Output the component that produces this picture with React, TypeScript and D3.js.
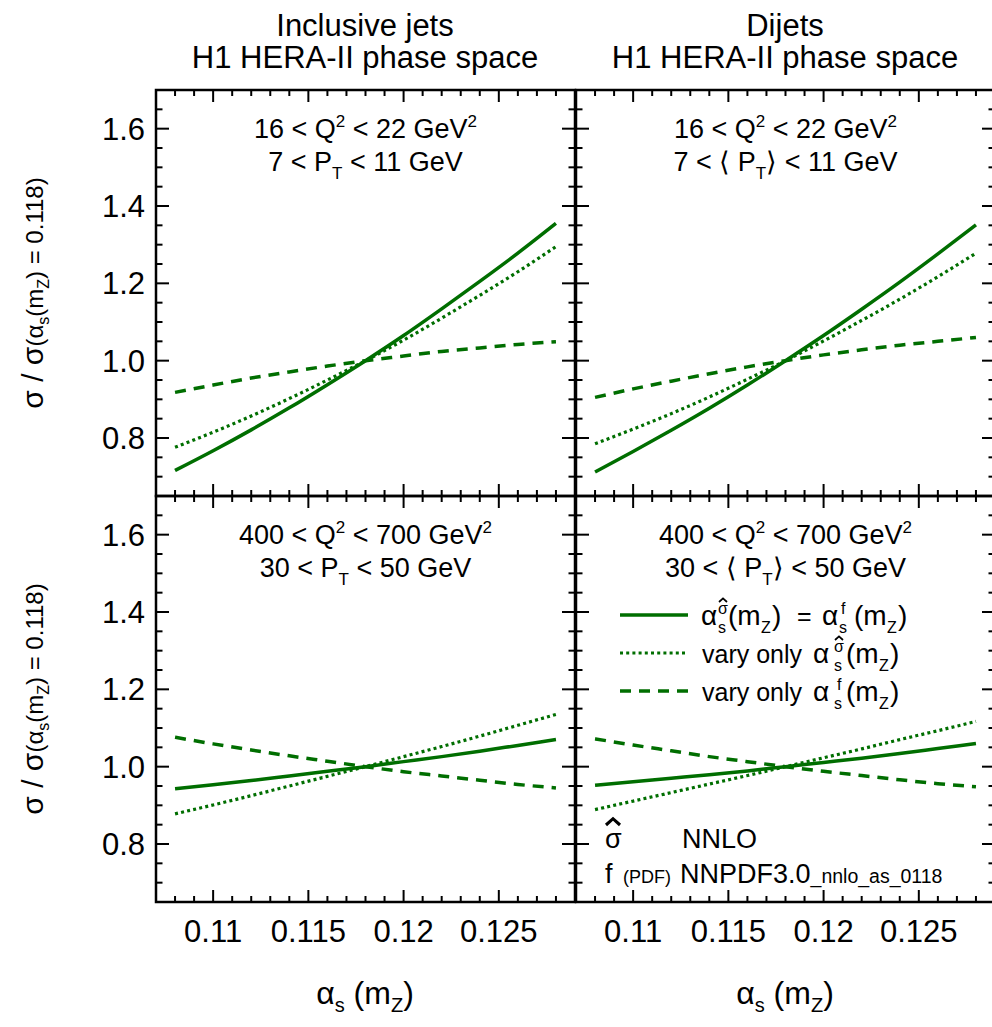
import React from 'react'
import * as d3 from 'd3'

const alphaS = [0.108, 0.110, 0.112, 0.114, 0.116, 0.118, 0.120, 0.122, 0.124, 0.126, 0.128]

// inclusive jets, 16 < Q2 < 22
const incTopBoth = [0.716, 0.767, 0.821, 0.878, 0.938, 1.0, 1.065, 1.134, 1.205, 1.278, 1.355]
const incTopHat = [0.776, 0.815, 0.857, 0.902, 0.950, 1.0, 1.053, 1.110, 1.169, 1.230, 1.295]
const incTopPdf = [0.918, 0.937, 0.955, 0.971, 0.986, 1.0, 1.012, 1.024, 1.033, 1.042, 1.049]
// dijets, 16 < Q2 < 22
const dijTopBoth = [0.712, 0.765, 0.820, 0.877, 0.937, 1.0, 1.065, 1.133, 1.203, 1.276, 1.351]
const dijTopHat = [0.785, 0.823, 0.863, 0.906, 0.952, 1.0, 1.051, 1.104, 1.159, 1.217, 1.278]
const dijTopPdf = [0.905, 0.927, 0.947, 0.966, 0.984, 1.0, 1.015, 1.028, 1.040, 1.050, 1.060]
// inclusive jets, 400 < Q2 < 700
const incBotBoth = [0.943, 0.953, 0.964, 0.976, 0.988, 1.0, 1.013, 1.026, 1.040, 1.055, 1.070]
const incBotHat = [0.878, 0.901, 0.925, 0.950, 0.975, 1.0, 1.026, 1.052, 1.079, 1.107, 1.135]
const incBotPdf = [1.076, 1.059, 1.043, 1.028, 1.014, 1.0, 0.987, 0.976, 0.965, 0.954, 0.945]
// dijets, 400 < Q2 < 700
const dijBotBoth = [0.952, 0.961, 0.970, 0.979, 0.989, 1.0, 1.011, 1.022, 1.034, 1.047, 1.060]
const dijBotHat = [0.889, 0.911, 0.933, 0.955, 0.977, 1.0, 1.023, 1.046, 1.070, 1.093, 1.117]
const dijBotPdf = [1.072, 1.056, 1.041, 1.026, 1.013, 1.0, 0.988, 0.977, 0.966, 0.956, 0.948]

const xTickLabels = ['0.11', '0.115', '0.12', '0.125']
const yTickLabels = ['0.8', '1.0', '1.2', '1.4', '1.6']

const GREEN = '#006e00'
const FONT = '"Liberation Sans", Arial, sans-serif'

const PW = 419
const PH = 406
const panels = [
  { col: 0, row: 0, both: incTopBoth, hat: incTopHat, pdf: incTopPdf },
  { col: 1, row: 0, both: dijTopBoth, hat: dijTopHat, pdf: dijTopPdf },
  { col: 0, row: 1, both: incBotBoth, hat: incBotHat, pdf: incBotPdf },
  { col: 1, row: 1, both: dijBotBoth, hat: dijBotHat, pdf: dijBotPdf },
]

const styles = {
  both: { dash: null, w: 3.5 },
  hat: { dash: '3 3.2', w: 3.2 },
  pdf: { dash: '11 8', w: 3.5 },
}

function Hat({ x, y, w }) {
  // the little circumflex that ROOT puts over sigma
  return <path d={`M${x},${y} L${x + w / 2},${y - w * 0.45} L${x + w},${y}`} fill="none" stroke="#000" strokeWidth={w * 0.22} />
}

function Panel({ p }) {
  const x0 = 156 + p.col * 420
  const y0 = 90 + p.row * 406
  const x = d3.scaleLinear().domain([0.107, 0.129]).range([x0, x0 + PW])
  const y = d3.scaleLinear().domain([0.65, 1.7]).range([y0 + PH, y0])
  const line = d3.line<number>().x((d, i) => x(alphaS[i])).y(d => y(d)).curve(d3.curveMonotoneX)

  const xMinor = d3.range(108, 129).map(v => v / 1000)
  const yMinor = d3.range(14, 35).map(v => v / 20)
  const isMajX = v => Math.abs(v * 200 - Math.round(v * 200)) < 1e-6
  const isMajY = v => Math.abs(v * 5 - Math.round(v * 5)) < 1e-6

  const ticks = []
  xMinor.forEach((v, i) => {
    const L = isMajX(v) ? 12 : 6
    ticks.push(<line key={'xb' + i} x1={x(v)} x2={x(v)} y1={y0 + PH} y2={y0 + PH - L} />)
    ticks.push(<line key={'xt' + i} x1={x(v)} x2={x(v)} y1={y0} y2={y0 + L} />)
  })
  yMinor.forEach((v, i) => {
    const L = isMajY(v) ? 13 : 6.5
    ticks.push(<line key={'yl' + i} x1={x0} x2={x0 + L} y1={y(v)} y2={y(v)} />)
    ticks.push(<line key={'yr' + i} x1={x0 + PW} x2={x0 + PW - L} y1={y(v)} y2={y(v)} />)
  })

  const cx = x0 + PW / 2
  const lo = p.row === 0
  const q = lo ? ['16', '22'] : ['400', '700']
  const pt = lo ? ['7', '11'] : ['30', '50']
  const dij = p.col === 1

  return (
    <g>
      <g clipPath={`url(#clip${p.col}${p.row})`}>
        {['pdf', 'hat', 'both'].map(k => (
          <path key={k} d={line(p[k])} fill="none" stroke={GREEN} strokeWidth={styles[k].w}
            strokeDasharray={styles[k].dash || undefined} />
        ))}
      </g>
      <g stroke="#000" strokeWidth={2}>{ticks}</g>
      <rect x={x0} y={y0} width={PW} height={PH} fill="none" stroke="#000" strokeWidth={2.5} />

      <text x={cx} y={y0 + 48} textAnchor="middle" fontSize={27}>
        {q[0]} &lt; Q<tspan dy={-11} fontSize={17}>2</tspan><tspan dy={11}> &lt; {q[1]} GeV</tspan><tspan dy={-11} fontSize={17}>2</tspan>
      </text>
      <text x={cx} y={y0 + 81} textAnchor="middle" fontSize={27}>
        {pt[0]} &lt; {dij ? '\u27E8 ' : ''}P<tspan dy={8} fontSize={17}>T</tspan><tspan dy={-8}>{dij ? '\u27E9' : ''} &lt; {pt[1]} GeV</tspan>
      </text>

      {p.col === 0 && yTickLabels.map(t => (
        <text key={t} x={145} y={y(+t) + 11} textAnchor="end" fontSize={31}>{t}</text>
      ))}
      {p.row === 1 && xTickLabels.map(t => (
        <text key={t} x={x(+t)} y={942} textAnchor="middle" fontSize={31}>{t}</text>
      ))}
    </g>
  )
}

function Legend() {
  const rows = [
    { k: 'both', y: 615 },
    { k: 'hat', y: 653 },
    { k: 'pdf', y: 691 },
  ]
  const fs = 25
  const sm = 16
  const al = 28
  return (
    <g fontSize={fs}>
      {rows.map(r => (
        <line key={r.k} x1={620} x2={688} y1={r.y} y2={r.y} stroke={GREEN} strokeWidth={styles[r.k].w}
          strokeDasharray={styles[r.k].dash || undefined} />
      ))}
      {/* row 1 */}
      <text x={701} y={625} fontSize={al}>α</text>
      <text x={718} y={614} fontSize={sm}>σ</text>
      <Hat x={719} y={602} w={8} />
      <text x={718} y={633} fontSize={sm}>s</text>
      <text x={728} y={625} fontSize={al}>(m</text>
      <text x={761} y={633} fontSize={sm}>Z</text>
      <text x={772} y={625} fontSize={al}>)</text>
      <text x={797} y={625}>=</text>
      <text x={822} y={625} fontSize={al}>α</text>
      <text x={841} y={614} fontSize={sm}>f</text>
      <text x={839} y={633} fontSize={sm}>s</text>
      <text x={854} y={625} fontSize={al}>(m</text>
      <text x={887} y={633} fontSize={sm}>Z</text>
      <text x={898} y={625} fontSize={al}>)</text>
      {/* row 2 */}
      <text x={702} y={663}>vary only</text>
      <text x={813} y={663} fontSize={al}>α</text>
      <text x={834} y={652} fontSize={sm}>σ</text>
      <Hat x={835} y={640} w={8} />
      <text x={834} y={671} fontSize={sm}>s</text>
      <text x={846} y={663} fontSize={al}>(m</text>
      <text x={879} y={671} fontSize={sm}>Z</text>
      <text x={890} y={663} fontSize={al}>)</text>
      {/* row 3 */}
      <text x={702} y={701}>vary only</text>
      <text x={813} y={701} fontSize={al}>α</text>
      <text x={837} y={690} fontSize={sm}>f</text>
      <text x={834} y={709} fontSize={sm}>s</text>
      <text x={846} y={701} fontSize={al}>(m</text>
      <text x={879} y={709} fontSize={sm}>Z</text>
      <text x={890} y={701} fontSize={al}>)</text>

      <text x={605} y={848} fontSize={27}>σ</text>
      <Hat x={606} y={825} w={14} />
      <text x={682} y={848} fontSize={27}>NNLO</text>
      <text x={605} y={883} fontSize={27}>f</text>
      <text x={623} y={883} fontSize={18}>(PDF)</text>
      <text x={680} y={883} fontSize={27}>NNPDF3.0<tspan fontSize={19.5}>_nnlo_as_0118</tspan></text>
    </g>
  )
}

function YTitle({ cy }) {
  return (
    <g transform={`translate(43, ${cy}) rotate(-90)`}>
      <text textAnchor="middle" fontSize={24}>
        <tspan fontSize={30}>σ / σ</tspan>(α<tspan dy={6} fontSize={16}>s</tspan><tspan dy={-6}>(m</tspan><tspan dy={6} fontSize={16}>Z</tspan><tspan dy={-6}>) = 0.118)</tspan>
      </text>
    </g>
  )
}

function XTitle({ cx }) {
  return (
    <text x={cx} y={1004} textAnchor="middle" fontSize={32}>
      α<tspan dy={8} fontSize={20}>s</tspan><tspan dy={-8}> (m</tspan><tspan dy={8} fontSize={20}>Z</tspan><tspan dy={-8}>)</tspan>
    </text>
  )
}

export default function App() {
  return (
    <svg width={992} height={1027} style={{ position: 'absolute', left: 0, top: 0, background: '#fff' }}
      fontFamily={FONT} fill="#000">
      <defs>
        {panels.map(p => (
          <clipPath key={p.col + '' + p.row} id={`clip${p.col}${p.row}`}>
            <rect x={156 + p.col * 420} y={90 + p.row * 406} width={PW} height={PH} />
          </clipPath>
        ))}
      </defs>
      <text x={365} y={36} textAnchor="middle" fontSize={31}>Inclusive jets</text>
      <text x={365} y={68} textAnchor="middle" fontSize={31}>H1 HERA-II phase space</text>
      <text x={785} y={36} textAnchor="middle" fontSize={31}>Dijets</text>
      <text x={785} y={68} textAnchor="middle" fontSize={31}>H1 HERA-II phase space</text>
      {panels.map(p => <Panel key={p.col + '' + p.row} p={p} />)}
      <Legend />
      <YTitle cy={293} />
      <YTitle cy={699} />
      <XTitle cx={365} />
      <XTitle cx={785} />
    </svg>
  )
}
